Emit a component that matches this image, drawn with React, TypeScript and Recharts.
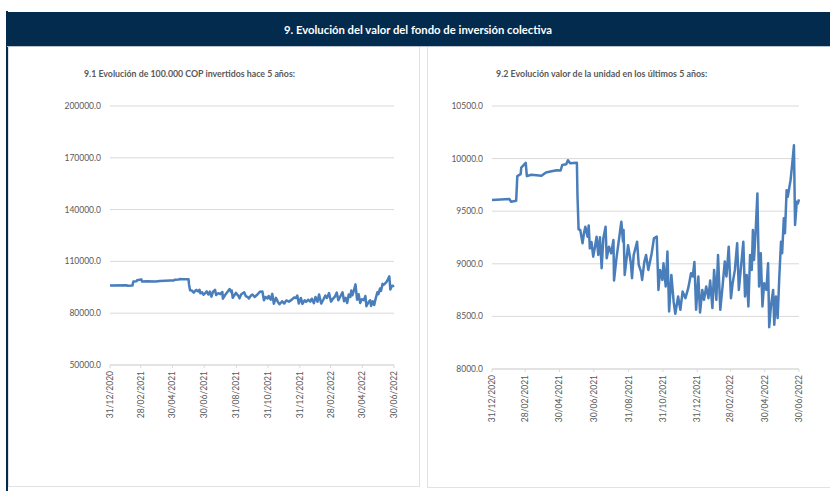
import React from 'react';
import { LineChart, Line, XAxis, YAxis, CartesianGrid } from 'recharts';

// Day offset from 31/12/2020
const days = [
  0, 31, 34, 43, 45, 51, 52, 60, 62, 70, 88, 96, 106, 115, 122, 125, 132, 135, 139, 151,
  152, 154, 157, 161, 164, 166, 170, 172, 174, 177, 180, 183, 186, 189, 192, 195, 198, 202, 204, 208,
  212, 216, 217, 221, 230, 233, 234, 236, 242, 247, 249, 252, 258, 261, 265, 267, 271, 274, 278, 284,
  288, 293, 296, 299, 303, 305, 309, 312, 315, 319, 323, 326, 331, 335, 339, 344, 349, 354, 357, 360,
  363, 367, 370, 374, 377, 381, 385, 388, 392, 395, 399, 402, 406, 410, 414, 417, 421, 425, 428, 432,
  436, 439, 444, 447, 450, 453, 456, 459, 462, 464, 466, 469, 472, 475, 478, 481, 484, 488, 491, 493,
  496, 500, 502, 505, 508, 511, 514, 516, 519, 521, 524, 526, 531, 534, 537, 539, 542, 544, 546,
];

// 9.1 Evolución de 100.000 COP invertidos
const investValues = [
  96100, 96200, 95900, 96000, 98300, 98500, 99100, 99600, 98300, 98500, 98400, 98700, 98800, 98900, 98900, 99400, 99500, 99800, 99600, 99600,
  96500, 93300, 93200, 91900, 93000, 93500, 92600, 93600, 91500, 92100, 90700, 91600, 92600, 90800, 92500, 89600, 92400, 93500, 90500, 91600,
  91000, 92300, 88400, 90400, 94000, 92100, 93200, 88900, 91800, 90000, 88600, 90800, 92100, 89900, 89300, 88500, 90200, 90800, 89400, 91000,
  92400, 92600, 87500, 89400, 88500, 90000, 87800, 91200, 85500, 88900, 86400, 85200, 86900, 85600, 87400, 86700, 87700, 89100, 88800, 90200,
  85600, 88800, 85400, 87500, 86600, 87800, 86700, 88400, 85800, 89400, 86600, 90800, 85600, 87800, 90200, 88800, 91600, 86700, 88100, 89400,
  91900, 87500, 90400, 92100, 86900, 88900, 85900, 90800, 89400, 93200, 90400, 93200, 96700, 87800, 91000, 85900, 88100, 87500, 90000, 84000,
  85900, 87500, 84200, 86900, 84800, 88800, 92100, 91000, 94300, 92900, 97000, 96400, 97900, 99500, 101300, 93700, 95900, 95700, 96100,
];

// 9.2 Evolución valor de la unidad
const unitValues = [
  9606, 9615, 9590, 9600, 9833, 9852, 9915, 9960, 9833, 9846, 9836, 9868, 9880, 9890, 9887, 9940, 9947, 9985, 9956, 9960,
  9653, 9327, 9321, 9195, 9305, 9353, 9258, 9365, 9147, 9207, 9068, 9157, 9258, 9084, 9252, 8958, 9242, 9353, 9052, 9163,
  9100, 9226, 8841, 9037, 9400, 9210, 9321, 8894, 9176, 9005, 8863, 9084, 9210, 8989, 8926, 8847, 9021, 9084, 8942, 9100,
  9242, 9258, 8752, 8942, 8847, 9005, 8784, 9116, 8547, 8894, 8642, 8525, 8689, 8563, 8736, 8673, 8768, 8910, 8879, 9018,
  8563, 8879, 8537, 8752, 8657, 8784, 8673, 8841, 8579, 8942, 8657, 9084, 8563, 8784, 9021, 8879, 9163, 8673, 8815, 8942,
  9195, 8752, 9037, 9210, 8689, 8894, 8594, 9084, 8942, 9321, 9037, 9321, 9669, 8784, 9100, 8594, 8815, 8752, 9005, 8398,
  8594, 8752, 8420, 8689, 8484, 8879, 9210, 9100, 9432, 9290, 9700, 9637, 9795, 9953, 10127, 9369, 9590, 9574, 9612,
];

const tickDays = [0, 59, 120, 181, 243, 304, 365, 424, 485, 546];
const tickLabels = [
  '31/12/2020', '28/02/2021', '30/04/2021', '30/06/2021', '31/08/2021',
  '31/10/2021', '31/12/2021', '28/02/2022', '30/04/2022', '30/06/2022',
];
const investTicks = [50000, 80000, 110000, 140000, 170000, 200000];
const unitTicks = [8000, 8500, 9000, 9500, 10000, 10500];

const headerTitle = '9. Evolución del valor del fondo de inversión colectiva';
const leftTitle = '9.1 Evolución de 100.000 COP invertidos hace 5 años:';
const rightTitle = '9.2 Evolución valor de la unidad en los últimos 5 años:';

const investData = days.map((d, i) => ({ day: d, value: investValues[i] }));
const unitData = days.map((d, i) => ({ day: d, value: unitValues[i] }));

const FONT = 'Lato, "Noto Sans", sans-serif';
const TEXT = '#595959';
const GRID = '#d9d9d9';
const LINE = '#4a7ebb';
const NAVY = '#022b4e';

function DateTick(props: any) {
  const { x, y, payload } = props;
  const idx = tickDays.indexOf(payload.value);
  const label = idx >= 0 ? tickLabels[idx] : '';
  return (
    <text
      x={x}
      y={y}
      dy="0.35em"
      transform={`rotate(-90, ${x}, ${y})`}
      textAnchor="end"
      fill={TEXT}
      fontSize={8.5}
      fontFamily={FONT}
    >
      {label}
    </text>
  );
}

function Chart(props: {
  data: { day: number; value: number }[];
  ticks: number[];
  width: number;
  margin: { top: number; right: number; bottom: number; left: number };
}) {
  const { data, ticks, width, margin } = props;
  return (
    <LineChart width={width} height={491} data={data} margin={margin}>
      <CartesianGrid horizontal={true} vertical={false} stroke={GRID} />
      <XAxis
        dataKey="day"
        type="number"
        domain={[0, 546]}
        ticks={tickDays}
        interval={0}
        height={70}
        tickSize={3}
        tickMargin={3}
        stroke={GRID}
        axisLine={{ stroke: GRID }}
        tickLine={{ stroke: GRID }}
        tick={<DateTick />}
      />
      <YAxis
        type="number"
        domain={[ticks[0], ticks[ticks.length - 1]]}
        ticks={ticks}
        interval={0}
        width={60}
        axisLine={false}
        tickLine={false}
        tickMargin={3}
        tickFormatter={(v: number) => v.toFixed(1)}
        tick={{ fill: TEXT, fontSize: 8.5, fontFamily: FONT }}
      />
      <Line
        type="linear"
        dataKey="value"
        stroke={LINE}
        strokeWidth={2.5}
        strokeLinejoin="round"
        dot={false}
        activeDot={false}
        isAnimationActive={false}
      />
    </LineChart>
  );
}

export default function App() {
  return (
    <div
      style={{
        position: 'absolute',
        left: 0,
        top: 0,
        width: 830,
        height: 491,
        background: '#ffffff',
        overflow: 'hidden',
        fontFamily: FONT,
      }}
    >
      {/* left navy rule */}
      <div style={{ position: 'absolute', left: 6, top: 11, width: 1.5, height: 480, background: NAVY }} />
      {/* header */}
      <div
        style={{
          position: 'absolute',
          left: 6,
          top: 12,
          width: 824,
          height: 34,
          background: NAVY,
          color: '#ffffff',
          display: 'flex',
          alignItems: 'center',
          justifyContent: 'center',
          fontWeight: 700,
          fontSize: 11.3,
          whiteSpace: 'nowrap',
        }}
      >
        {headerTitle}
      </div>
      <div style={{ position: 'absolute', left: 7, top: 46, width: 823, height: 1, background: '#b9c3cf' }} />
      {/* panels */}
      <div
        style={{
          position: 'absolute',
          left: 8,
          top: 47,
          width: 412,
          height: 440,
          border: '1.5px solid #e2e2e2',
          borderTop: 'none',
          boxSizing: 'border-box',
        }}
      />
      <div
        style={{
          position: 'absolute',
          left: 427,
          top: 47,
          width: 410,
          height: 441,
          border: '1.5px solid #e2e2e2',
          borderTop: 'none',
          boxSizing: 'border-box',
        }}
      />
      {/* titles */}
      <div
        style={{
          position: 'absolute',
          left: 84,
          top: 67,
          height: 13,
          lineHeight: '13px',
          fontSize: 8.8,
          fontWeight: 700,
          color: TEXT,
          whiteSpace: 'nowrap',
        }}
      >
        {leftTitle}
      </div>
      <div
        style={{
          position: 'absolute',
          left: 496,
          top: 67,
          height: 13,
          lineHeight: '13px',
          fontSize: 8.9,
          fontWeight: 700,
          color: TEXT,
          whiteSpace: 'nowrap',
        }}
      >
        {rightTitle}
      </div>
      {/* charts */}
      <div style={{ position: 'absolute', left: 0, top: 0 }}>
        <Chart
          data={investData}
          ticks={investTicks}
          width={420}
          margin={{ top: 106, right: 26, bottom: 56, left: 50 }}
        />
      </div>
      <div style={{ position: 'absolute', left: 420, top: 0 }}>
        <Chart
          data={unitData}
          ticks={unitTicks}
          width={410}
          margin={{ top: 106, right: 31, bottom: 52, left: 12 }}
        />
      </div>
    </div>
  );
}
